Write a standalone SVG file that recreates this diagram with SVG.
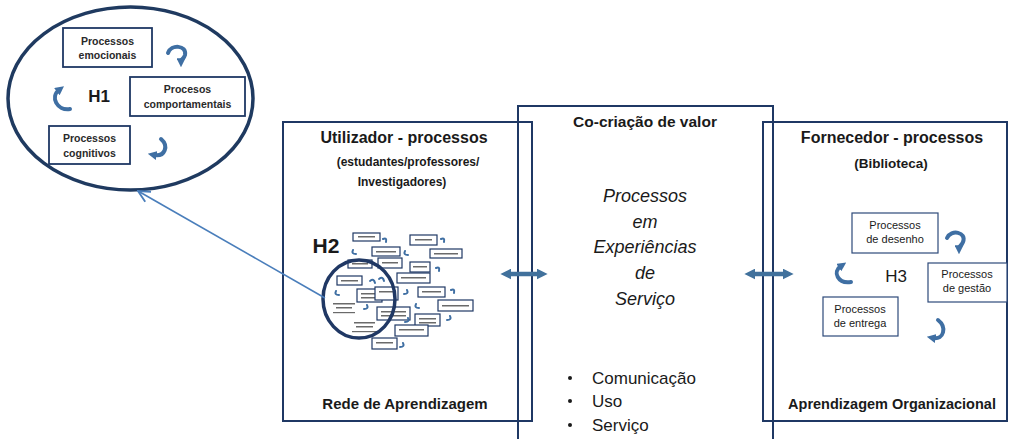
<svg xmlns="http://www.w3.org/2000/svg" width="1011" height="439" viewBox="0 0 1011 439">
<style>
  .frame{fill:none;stroke:#1f3864;stroke-width:2}
  .pbox{fill:#fff;stroke:#1f3864;stroke-width:1.8}
  .pbox2{fill:#fff;stroke:#2e4a7a;stroke-width:1.2}
  .t{font-family:"Liberation Sans",Arial,sans-serif;fill:#1a1a1a;text-anchor:middle}
  .b{font-weight:bold}
  .it{font-style:italic}
  .h1t{font-weight:bold;fill:#2a2a2a;font-size:10.5px}
  .curv{fill:none;stroke:#3f6fa3;stroke-width:4;stroke-linecap:round}
  .tiny{fill:none;stroke:#3f6fa3;stroke-width:2;stroke-linecap:round}
  .mb{fill:#fff;stroke:#1f3864;stroke-width:1.2}
  .bar{fill:#6a6a6a}
  .dbl{stroke:#41719c;stroke-width:4.5;fill:none}
</style>
<defs>
  <marker id="cah" viewBox="0 0 10 10" refX="3" refY="5" markerWidth="9" markerHeight="9" markerUnits="userSpaceOnUse" orient="auto">
    <path d="M0,0 L10,5 L0,10 z" fill="#3f6fa3"/>
  </marker>
  <marker id="dah" viewBox="0 0 10 10" refX="4" refY="5" markerWidth="11" markerHeight="11" markerUnits="userSpaceOnUse" orient="auto-start-reverse">
    <path d="M0,0 L10,5 L0,10 z" fill="#41719c"/>
  </marker>
  <marker id="open" viewBox="0 0 12 12" refX="11" refY="6" markerWidth="14" markerHeight="14" markerUnits="userSpaceOnUse" orient="auto">
    <path d="M1,1 L11,6 L1,11" fill="none" stroke="#4a7ebb" stroke-width="1.6"/>
  </marker>
</defs>

<!-- H1 ellipse node -->
<g id="h1-zoom">
  <ellipse cx="130.5" cy="98.5" rx="122.5" ry="91.5" fill="#fff" stroke="#1f3a60" stroke-width="3.5"/>
  <g id="proc-emocionais">
    <rect class="pbox" x="63" y="28" width="89" height="39"/>
    <text class="t h1t" x="107.5" y="45">Processos</text>
    <text class="t h1t" x="107.5" y="59">emocionais</text>
  </g>
  <g id="proc-comportamentais">
    <rect class="pbox" x="130" y="77" width="115" height="39"/>
    <text class="t h1t" x="187.5" y="93">Procesos</text>
    <text class="t h1t" x="187.5" y="108">comportamentais</text>
  </g>
  <g id="proc-cognitivos">
    <rect class="pbox" x="49" y="126" width="81" height="38"/>
    <text class="t h1t" x="89.5" y="142">Processos</text>
    <text class="t h1t" x="89.5" y="157">cognitivos</text>
  </g>
  <text class="t b" x="99" y="102" font-size="17">H1</text>
  <path class="curv" d="M168,53 C171,44 187,45 185,55 C184,59 181,59 181,61" marker-end="url(#cah)"/>
  <path class="curv" d="M70,109 C57,111 50,97 59,90" marker-end="url(#cah)"/>
  <path class="curv" d="M161,139 C169,146 165,157 154,155" marker-end="url(#cah)"/>
</g>

<!-- Utilizador box -->
<g id="utilizador">
  <rect class="frame" x="283" y="122" width="249" height="299"/>
  <text class="t b" x="404" y="143" font-size="16">Utilizador - processos</text>
  <text class="t b" x="408" y="166" font-size="12">(estudantes/professores/</text>
  <text class="t b" x="402" y="186" font-size="12">Investigadores)</text>
  <text class="t b" x="405" y="409" font-size="15">Rede de Aprendizagem</text>
  <text class="t b" x="326" y="253" font-size="21">H2</text>
  <g id="h2-cluster">
    <rect class="mb" x="353" y="233" width="27" height="8"/><rect class="bar" x="358" y="236" width="17" height="1.5"/>
    <rect class="mb" x="410" y="235" width="27" height="10"/><rect class="bar" x="415" y="239" width="17" height="1.5"/>
    <rect class="mb" x="372" y="247" width="28" height="9"/><rect class="bar" x="376" y="251" width="20" height="1.5"/>
    <rect class="mb" x="430" y="249" width="32" height="9"/><rect class="bar" x="434" y="253" width="24" height="1.5"/>
    <rect class="mb" x="348" y="260" width="24" height="8"/><rect class="bar" x="352" y="263" width="16" height="1.5"/>
    <rect class="mb" x="378" y="258" width="24" height="10"/><rect class="bar" x="382" y="262" width="16" height="1.5"/>
    <rect class="mb" x="410" y="262" width="20" height="10"/><rect class="bar" x="413" y="266" width="14" height="1.5"/>
    <rect class="mb" x="397" y="273" width="33" height="10"/><rect class="bar" x="401" y="277" width="25" height="1.5"/>
    <rect class="mb" x="337" y="276" width="25" height="9"/><rect class="bar" x="341" y="280" width="17" height="1.5"/>
    <rect class="mb" x="357" y="289" width="25" height="13"/><rect class="bar" x="361" y="293" width="17" height="1.5"/><rect class="bar" x="361" y="297" width="17" height="1.5"/>
    <rect class="mb" x="375" y="287" width="23" height="13" stroke-width="2"/><rect class="bar" x="379" y="291" width="15" height="1.5"/>
    <rect class="mb" x="418" y="287" width="27" height="10"/><rect class="bar" x="422" y="291" width="19" height="1.5"/>
    <rect class="mb" x="438" y="300" width="35" height="11"/><rect class="bar" x="442" y="305" width="27" height="1.5"/>
    <rect class="bar" x="333" y="303" width="22" height="1.5"/><rect class="bar" x="336" y="307" width="16" height="1.5"/><rect class="bar" x="333" y="312" width="22" height="1.2"/>
    <rect class="mb" x="377" y="307" width="33" height="13"/><rect class="bar" x="381" y="311" width="25" height="1.5"/><rect class="bar" x="381" y="315" width="25" height="1.5"/>
    <rect class="mb" x="415" y="314" width="25" height="12"/><rect class="bar" x="419" y="318" width="17" height="1.5"/><rect class="bar" x="419" y="322" width="17" height="1.5"/>
    <rect class="bar" x="354" y="322" width="21" height="1.5"/><rect class="bar" x="356" y="326" width="17" height="1.5"/><rect class="bar" x="352" y="331" width="25" height="1.2"/>
    <rect class="mb" x="395" y="325" width="33" height="11"/><rect class="bar" x="399" y="329" width="25" height="1.5"/>
    <rect class="mb" x="372" y="338" width="25" height="11"/><rect class="bar" x="376" y="342" width="17" height="1.5"/>
    <path class="tiny" d="M383,239 q4,-2 3,3"/>
    <path class="tiny" d="M441,239 q4,-2 3,3"/>
    <path class="tiny" d="M353,250 q-2,4 3,4"/>
    <path class="tiny" d="M405,251 q-2,4 3,4"/>
    <path class="tiny" d="M436,268 q4,-2 3,3"/>
    <path class="tiny" d="M370,281 q4,-3 5,2"/>
    <path class="tiny" d="M379,279 q4,-3 5,2"/>
    <path class="tiny" d="M407,290 q2,4 -3,4"/>
    <path class="tiny" d="M451,290 q4,-2 3,3"/>
    <path class="tiny" d="M336,291 q-2,4 3,4"/>
    <path class="tiny" d="M367,305 q2,4 -3,4"/>
    <path class="tiny" d="M416,304 q-2,4 3,4"/>
    <path class="tiny" d="M408,318 q2,4 -3,4"/>
    <path class="tiny" d="M450,316 q2,4 -3,4"/>
    <path class="tiny" d="M403,343 q2,4 -3,4"/>
    <ellipse cx="359" cy="299" rx="36" ry="39" fill="none" stroke="#203864" stroke-width="3.5"/>
  </g>
</g>

<!-- Co-criação box -->
<g id="cocriacao">
  <rect class="frame" x="518" y="106" width="255" height="345"/>
  <text class="t b" x="645" y="127" font-size="15.5">Co-criação de valor</text>
  <text class="t it" x="645" y="202" font-size="18">Processos</text>
  <text class="t it" x="645" y="228" font-size="18">em</text>
  <text class="t it" x="645" y="253" font-size="18">Experiências</text>
  <text class="t it" x="645" y="279" font-size="18">de</text>
  <text class="t it" x="645" y="305" font-size="18">Serviço</text>
  <circle cx="570" cy="378" r="2" fill="#1a1a1a"/>
  <circle cx="570" cy="401" r="2" fill="#1a1a1a"/>
  <circle cx="570" cy="425" r="2" fill="#1a1a1a"/>
  <text class="t" x="592" y="384" font-size="17" style="text-anchor:start">Comunicação</text>
  <text class="t" x="592" y="407" font-size="17" style="text-anchor:start">Uso</text>
  <text class="t" x="592" y="431" font-size="17" style="text-anchor:start">Serviço</text>
</g>

<!-- Fornecedor box -->
<g id="fornecedor">
  <rect class="frame" x="763" y="122" width="244" height="299"/>
  <text class="t b" x="892" y="143" font-size="16">Fornecedor - processos</text>
  <text class="t b" x="891" y="168" font-size="13.5">(Biblioteca)</text>
  <text class="t b" x="892" y="409" font-size="14.5">Aprendizagem Organizacional</text>
  <g id="proc-desenho">
    <rect class="pbox2" x="852" y="213" width="86" height="40"/>
    <text class="t" x="895" y="229" font-size="11">Processos</text>
    <text class="t" x="895" y="243" font-size="11">de desenho</text>
  </g>
  <g id="proc-gestao">
    <rect class="pbox2" x="928" y="263" width="79" height="39"/>
    <text class="t" x="967" y="278" font-size="11">Processos</text>
    <text class="t" x="967" y="292" font-size="11">de gestão</text>
  </g>
  <g id="proc-entrega">
    <rect class="pbox2" x="823" y="297" width="75" height="39"/>
    <text class="t" x="860" y="313" font-size="11">Processos</text>
    <text class="t" x="860" y="327" font-size="11">de entrega</text>
  </g>
  <text class="t" x="896" y="282" font-size="17">H3</text>
  <path class="curv" d="M947,238 C951,229 967,232 963,242 C962,245 959,246 959,248" marker-end="url(#cah)"/>
  <path class="curv" d="M851,282 C838,284 832,272 841,266" marker-end="url(#cah)"/>
  <path class="curv" d="M938,320 C947,327 944,340 933,338" marker-end="url(#cah)"/>
</g>

<!-- connectors -->
<g id="connectors">
  <line x1="325" y1="298" x2="138" y2="191" stroke="#4a7ebb" stroke-width="1.6" marker-end="url(#open)"/>
  <line class="dbl" x1="507" y1="274" x2="541" y2="274" marker-start="url(#dah)" marker-end="url(#dah)"/>
  <line class="dbl" x1="751" y1="274" x2="787" y2="274" marker-start="url(#dah)" marker-end="url(#dah)"/>
</g>
</svg>
